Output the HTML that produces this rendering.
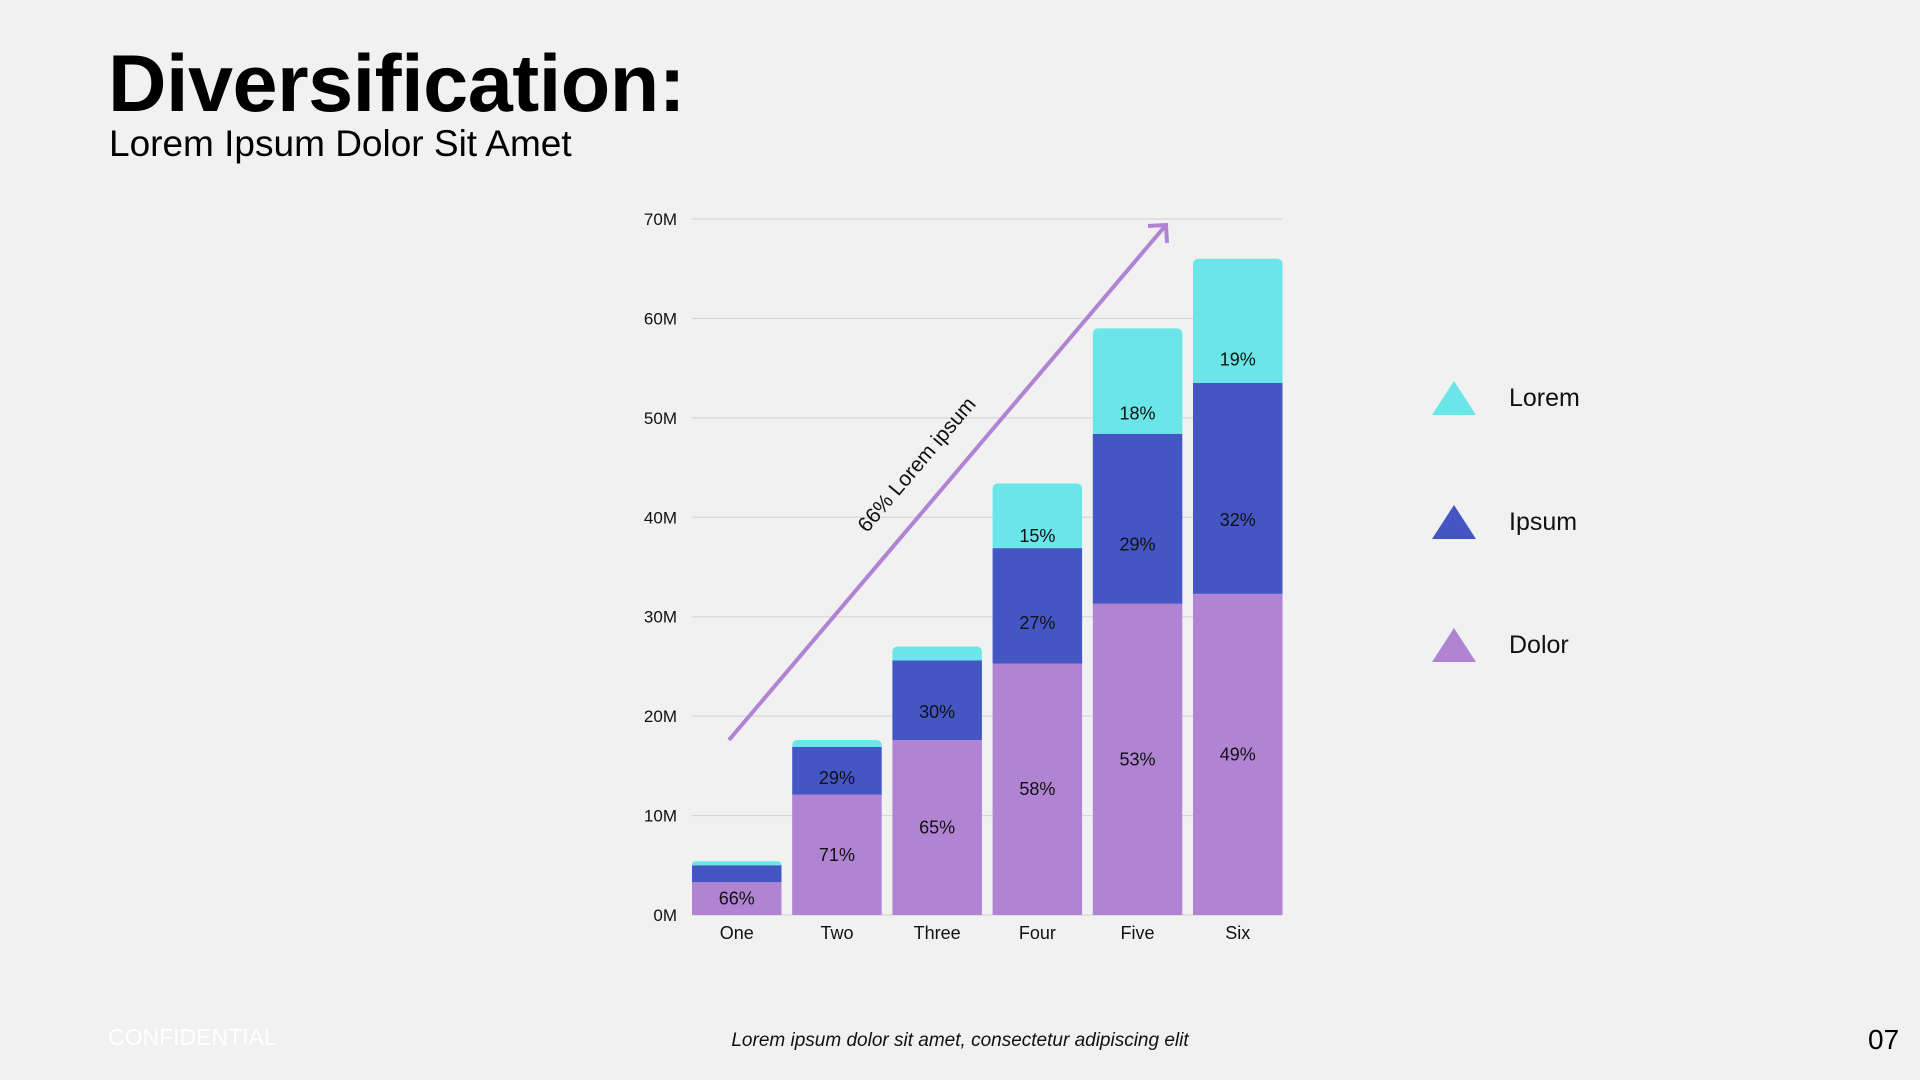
<!DOCTYPE html>
<html><head><meta charset="utf-8"><style>
html,body{margin:0;padding:0;background:#f1f1f1;width:1920px;height:1080px;overflow:hidden;font-family:"Liberation Sans",sans-serif;}
#root{position:relative;width:1920px;height:1080px;}
.abs{position:absolute;white-space:nowrap;}
</style></head><body><div id="root">
<div class="abs" style="left:108px;top:38px;font-size:81px;font-weight:bold;color:#000;letter-spacing:-0.5px">Diversification:</div>
<div class="abs" style="left:109px;top:123px;font-size:37px;color:#000">Lorem Ipsum Dolor Sit Amet</div>
<svg id="chart" width="1920" height="1080" style="position:absolute;left:0;top:0"></svg>
<div class="abs" style="left:108px;top:1024px;font-size:23px;color:#fff">CONFIDENTIAL</div>
<div class="abs" style="left:960px;top:1030px;transform:translateX(-50%);font-size:19px;font-style:italic;color:#111">Lorem ipsum dolor sit amet, consectetur adipiscing elit</div>
<div class="abs" style="left:1868px;top:1024px;font-size:28px;color:#000">07</div>
<script>
const categories=["One","Two","Three","Four","Five","Six"];
const dolor=[3.3,12.1,17.6,25.3,31.3,32.3];
const ipsum=[1.7,4.8,8.0,11.6,17.1,21.2];
const lorem=[0.4,0.7,1.4,6.5,10.6,12.5];
const dolorPct=["66%","71%","65%","58%","53%","49%"];
const ipsumPct=["","29%","30%","27%","29%","32%"];
const loremPct=["","","","15%","18%","19%"];
const yTicks=[0,10,20,30,40,50,60,70];
const seriesNames=["Lorem","Ipsum","Dolor"];
const arrowLabel="66% Lorem ipsum";
const colors={lorem:"#6ae5e8",ipsum:"#4455c4",dolor:"#b083d3"};
const svg=document.getElementById('chart');const NS="http://www.w3.org/2000/svg";
const x0=692,x1=1282,y0=915,yTop=219;
const y=v=>y0-(y0-yTop)*v/70;
const pitch=100.2, bw=89.5;
const bx=i=>x0+i*pitch;
function el(t,a,txt){const e=document.createElementNS(NS,t);for(const k in a)e.setAttribute(k,a[k]);if(txt!==undefined)e.textContent=txt;svg.appendChild(e);return e;}
yTicks.forEach(t=>{
 const g=el('line',{x1:x0,x2:x1,y1:y(t),y2:y(t),stroke:'#d6d6d6','stroke-width':1.2});
 
 
 const l=el('text',{x:677,y:y(t)+6,'text-anchor':'end','font-size':17,fill:'#111','font-family':'Liberation Sans'},t+'M');
 
 
});
function seg(i,b,v,c,name,round){
 const top=y(b+v),h=Math.max(y(b)-y(b+v),0),x=bx(i);
 const r=Math.min(round?6:0,h);
 const d=`M${x},${top+h} V${top+r} Q${x},${top} ${x+r},${top} H${x+bw-r} Q${x+bw},${top} ${x+bw},${top+r} V${top+h} Z`;
 const p=el('path',{d:d,fill:c});
 
 
}
function lab(i,b,v,t,f){ if(!t)return;
 const tx=el('text',{x:bx(i)+bw/2,y:y(b+v*f)+6,'text-anchor':'middle','font-size':18,fill:'#111','font-family':'Liberation Sans'},t);
 
 
}
categories.forEach((c,i)=>{
 seg(i,0,dolor[i],colors.dolor,'bar-dolor-'+c.toLowerCase(),false);
 seg(i,dolor[i],ipsum[i],colors.ipsum,'bar-ipsum-'+c.toLowerCase(),false);
 seg(i,dolor[i]+ipsum[i],lorem[i],colors.lorem,'bar-lorem-'+c.toLowerCase(),true);
 lab(i,0,dolor[i],dolorPct[i],0.5);lab(i,dolor[i],ipsum[i],ipsumPct[i],0.35);lab(i,dolor[i]+ipsum[i],lorem[i],loremPct[i],0.19);
 const t=el('text',{x:bx(i)+bw/2,y:939,'text-anchor':'middle','font-size':18,fill:'#111','font-family':'Liberation Sans'},c);
 
 
});
const ax1=729,ay1=740,ax2=1166,ay2=225;
const ln=el('line',{x1:ax1,y1:ay1,x2:ax2,y2:ay2,stroke:colors.dolor,'stroke-width':4});


const hd=el('polyline',{points:`${ax2-18},${ay2+1} ${ax2},${ay2} ${ax2+1},${ay2+18}`,fill:'none',stroke:colors.dolor,'stroke-width':4});


const at=el('text',{x:0,y:0,'text-anchor':'middle','font-size':21,fill:'#111','font-family':'Liberation Sans',transform:'translate(922,469) rotate(-49.6)'},arrowLabel);


const lc=[colors.lorem,colors.ipsum,colors.dolor],ly=[398,522,645];
seriesNames.forEach((n,k)=>{
 const cy=ly[k];
 const p=el('polygon',{points:`1432,${cy+17} 1454,${cy-17} 1476,${cy+17}`,fill:lc[k]});
 
 
 const t=el('text',{x:1509,y:cy+8,'font-size':25,fill:'#111','font-family':'Liberation Sans'},n);
 
 
});
</script>
</div></body></html>
